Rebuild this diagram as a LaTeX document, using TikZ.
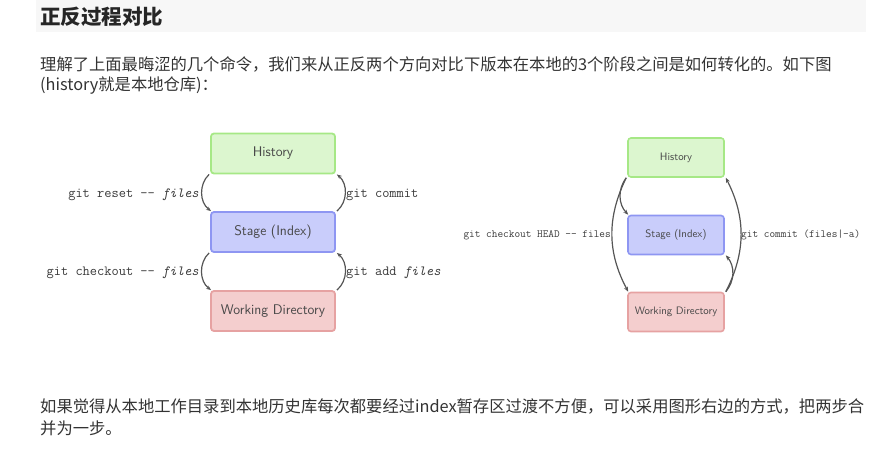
\documentclass[tikz,border=0pt]{standalone}
\usepackage{fontspec}
\setmainfont{Latin Modern Roman}
\newfontfamily\cjk{Noto Sans CJK SC}
\usetikzlibrary{arrows.meta}
\definecolor{txt}{HTML}{333333}
\definecolor{hfill}{HTML}{DCF6CF}
\definecolor{hdraw}{HTML}{A6E886}
\definecolor{sfill}{HTML}{C9CDFB}
\definecolor{sdraw}{HTML}{8E96F2}
\definecolor{wfill}{HTML}{F4CECE}
\definecolor{wdraw}{HTML}{E6A2A2}
\definecolor{arr}{HTML}{555555}
\definecolor{lbl}{HTML}{3A3A3A}
\tikzset{
  boxa/.style={rounded corners=3pt, line width=1.8pt, minimum width=124pt, minimum height=40pt,
    font=\sffamily\fontsize{14}{16}\selectfont, text=black!72, inner sep=0pt},
  boxb/.style={rounded corners=3pt, line width=1.6pt, minimum width=96pt, minimum height=39pt,
    font=\sffamily\fontsize{10.8}{12}\selectfont, text=black!72, inner sep=0pt},
  hist/.style={fill=hfill, draw=hdraw},
  stage/.style={fill=sfill, draw=sdraw},
  work/.style={fill=wfill, draw=wdraw},
  conn/.style={draw=arr, line width=1.2pt, -{Stealth[length=5pt,width=4pt]}},
  lbla/.style={font=\ttfamily\fontsize{14}{16}\selectfont, text=lbl, inner sep=0pt},
  lblb/.style={font=\ttfamily\fontsize{11}{13}\selectfont, text=lbl, inner sep=0pt},
  cjktxt/.style={font=\cjk\fontsize{16.3}{18}\selectfont, text=txt, inner sep=0pt, anchor=west},
}
\begin{document}
\begin{tikzpicture}[x=1pt,y=-1pt]
\useasboundingbox (0,0) rectangle (896,466);
\fill[fill=black!3] (36,0) rectangle (866,32);
\node[font=\cjk\bfseries\fontsize{20.5}{22}\selectfont, text=black!85, anchor=west, inner sep=0pt] (title) at (40,17) {正反过程对比};
\node[cjktxt] (p1) at (40,64) {理解了上面最晦涩的几个命令，我们来从正反两个方向对比下版本在本地的3个阶段之间是如何转化的。如下图};
\node[cjktxt] (p2) at (40,86) {(history就是本地仓库)：};
\node[cjktxt] (p3) at (40,406) {如果觉得从本地工作目录到本地历史库每次都要经过index暂存区过渡不方便，可以采用图形右边的方式，把两步合};
\node[cjktxt] (p4) at (40,428) {并为一步。};

% left diagram
\node[boxa, hist] (H1) at (273,153.5) {History};
\node[boxa, stage] (S1) at (273,232) {Stage (Index)};
\node[boxa, work] (W1) at (273,311) {Working Directory};
\draw[conn] ([xshift=-1pt]H1.south west) to[bend right=50] ([xshift=1pt]S1.north west);
\draw[conn] ([xshift=1pt]S1.north east) to[bend right=50] ([xshift=1pt]H1.south east);
\draw[conn] ([xshift=-1pt]S1.south west) to[bend right=50] ([xshift=1pt]W1.north west);
\draw[conn] ([xshift=1pt]W1.north east) to[bend right=50] ([xshift=1pt]S1.south east);
\node[lbla, anchor=east] (l1) at (199,194.5) {git reset -- \textit{files}};
\node[lbla, anchor=west] (l2) at (346,194.5) {git commit};
\node[lbla, anchor=east] (l3) at (199,272.5) {git checkout -- \textit{files}};
\node[lbla, anchor=west] (l4) at (346,272.5) {git add \textit{files}};

% right diagram
\node[boxb, hist] (H2) at (676,157.5) {History};
\node[boxb, stage] (S2) at (676,235) {Stage (Index)};
\node[boxb, work] (W2) at (676,312) {Working Directory};
\draw[conn] ([xshift=-1pt]H2.south west) to[bend right=40] ([xshift=1pt]S2.north west);
\draw[conn] ([xshift=-1pt]H2.south west) to[bend right=27] ([xshift=1pt]W2.north west);
\draw[conn] ([xshift=1pt]W2.north east) to[bend right=27] ([xshift=1pt]H2.south east);
\draw[conn] ([xshift=1pt]W2.north east) to[bend right=40] ([xshift=1pt]S2.south east);
\node[lblb, anchor=east] (l5) at (611,235) {git checkout HEAD -- files};
\node[lblb, anchor=west] (l6) at (741,235) {git commit (files|-a)};
\end{tikzpicture}
\end{document}
